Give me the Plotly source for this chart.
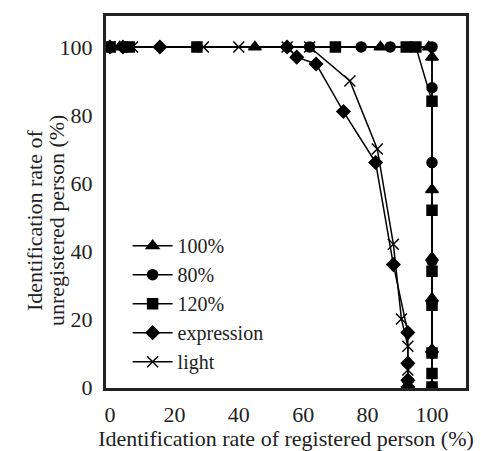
import plotly.graph_objects as go

# Series data (x: identification rate of registered person, y: of unregistered person)
s100_x = [0, 3, 45, 84, 99, 100, 100, 100, 100, 100, 100]
s100_y = [100, 100, 100, 100, 100, 97, 58, 38, 26, 11, 0]

s80_x = [0, 5, 62, 78, 87, 100, 100, 100, 100, 100, 100, 100]
s80_y = [100, 100, 100, 100, 100, 100, 88, 66, 37, 25, 10, 0]

s120_x = [0, 6, 27, 70, 92, 95, 100, 100, 100, 100, 100, 100, 100]
s120_y = [100, 100, 100, 100, 100, 100, 84, 52, 34, 24, 10, 4, 0]

expr_x = [0, 4, 15.5, 55, 58, 64, 72.5, 82.5, 88, 92.5, 92.5, 92.5, 92.5]
expr_y = [100, 100, 100, 100, 97, 95, 81, 66, 36, 16, 7, 2, 0]

light_x = [0, 7, 29, 40, 55, 62, 74.5, 83, 88, 90.5, 92.5, 92.5, 92.5, 92.5]
light_y = [100, 100, 100, 100, 100, 100, 90, 70, 42, 20, 12, 5, 1, 0]

x_ticks = [0, 20, 40, 60, 80, 100]
y_ticks = [0, 20, 40, 60, 80, 100]

x_title = "Identification rate of registered person (%)"
y_title_lines = ["Identification rate of", "unregistered person (%)"]

FONT = "Liberation Serif"
INK = "#222"

series = [
    ("100%", s100_x, s100_y, "triangle-up", 11),
    ("80%", s80_x, s80_y, "circle", 10),
    ("120%", s120_x, s120_y, "square", 10),
    ("expression", expr_x, expr_y, "diamond", 10),
    ("light", light_x, light_y, "x-thin-open", 11),
]

fig = go.Figure()
for name, xs, ys, sym, sz in series:
    fig.add_trace(go.Scatter(
        x=xs, y=ys, name=name, mode="lines+markers",
        line=dict(color="black", width=1.5),
        marker=dict(symbol=sym, size=sz, color="black",
                    line=dict(color="black", width=1.5)),
    ))

# y-axis title as two rotated lines placed to the left of the tick labels
for line_text, xpx in zip(y_title_lines, [35, 57]):
    fig.add_annotation(
        text=line_text, xref="paper", yref="paper",
        x=(xpx - 106) / 360, y=(388 - 221) / 372,
        xanchor="center", yanchor="middle", textangle=-90,
        showarrow=False, font=dict(family=FONT, size=22, color=INK),
    )

fig.update_layout(
    template="none",
    width=481, height=451,
    margin=dict(l=106, r=15, t=16, b=63),
    paper_bgcolor="white", plot_bgcolor="white",
    font=dict(family=FONT, size=22, color=INK),
    showlegend=True,
    legend=dict(x=0.06, y=0.435, xanchor="left", yanchor="top",
                bgcolor="rgba(0,0,0,0)", font=dict(family=FONT, size=20, color=INK),
                itemwidth=40, tracegroupgap=0),
    xaxis=dict(range=[-1.24, 110.56], tickvals=x_ticks, showgrid=False,
               zeroline=False, showline=True, linecolor=INK, linewidth=3,
               mirror=True, ticks="", ticklabelstandoff=5,
               tickfont=dict(family=FONT, size=22, color=INK),
               title=dict(text=x_title,
                          font=dict(family=FONT, size=22, color=INK), standoff=4)),
    yaxis=dict(range=[-0.3, 109.1], tickvals=y_ticks, showgrid=False,
               zeroline=False, showline=True, linecolor=INK, linewidth=3,
               mirror=True, ticks="", ticklabelstandoff=6,
               tickfont=dict(family=FONT, size=22, color=INK)),
)

fig.write_html("out.html")
